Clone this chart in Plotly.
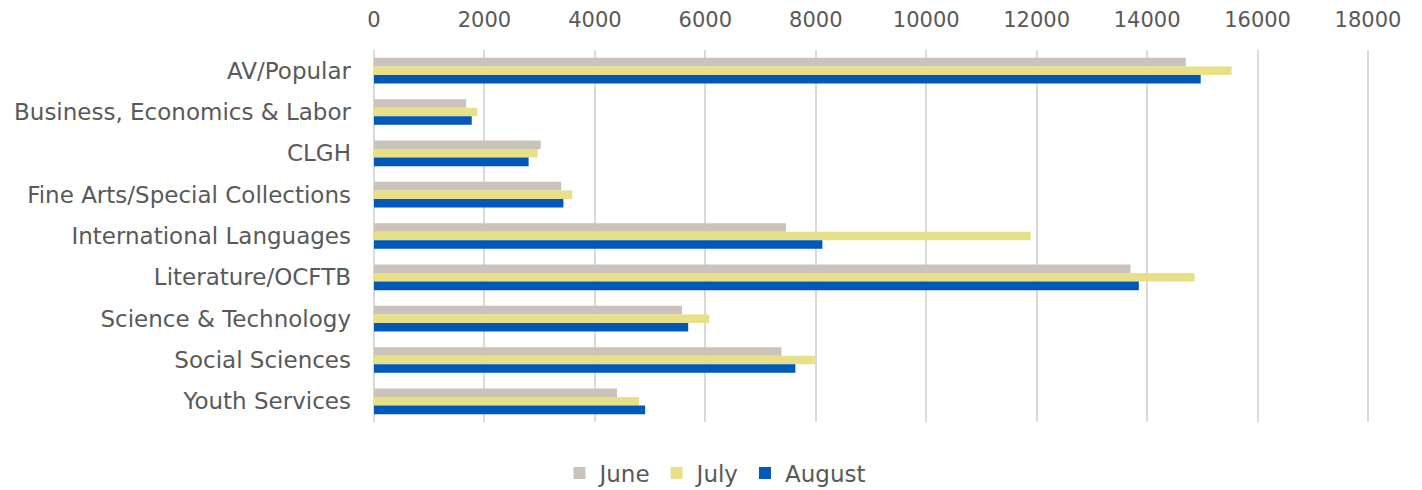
import plotly.graph_objects as go

categories = ["AV/Popular", "Business, Economics & Labor", "CLGH",
              "Fine Arts/Special Collections", "International Languages",
              "Literature/OCFTB", "Science & Technology", "Social Sciences",
              "Youth Services"]
june = [14700, 1670, 3020, 3390, 7460, 13700, 5580, 7380, 4400]
july = [15530, 1870, 2965, 3590, 11890, 14860, 6070, 8005, 4800]
august = [14970, 1770, 2800, 3430, 8120, 13850, 5690, 7630, 4910]
x_ticks = [0, 2000, 4000, 6000, 8000, 10000, 12000, 14000, 16000, 18000]

series = [("June", june, "#CAC2BB"), ("July", july, "#E8E086"), ("August", august, "#0059B9")]

fig = go.Figure()
for name, vals, color in series:
    fig.add_trace(go.Bar(y=categories, x=vals, name=name, orientation="h",
                         marker=dict(color=color, line=dict(width=0))))

font_family = "DejaVu Sans, sans-serif"
fig.update_layout(
    width=1414, height=482,
    barmode="group", bargap=0.38, bargroupgap=0,
    plot_bgcolor="white", paper_bgcolor="white",
    margin=dict(l=366, r=52, t=42, b=68, autoexpand=False),
    font=dict(family=font_family, size=21, color="#595959"),
    showlegend=True,
    legend=dict(orientation="h", xref="container",
                x=0.5, xanchor="center", y=-0.137, yanchor="middle",
                font=dict(size=23, color="#595959"), itemwidth=30,
                traceorder="normal"),
    xaxis=dict(side="top", range=[0, 18036], tickvals=x_ticks, tickformat="d",
               showgrid=True, gridcolor="#D9D9D9", gridwidth=1.5,
               zeroline=True, zerolinecolor="#D9D9D9", zerolinewidth=1.5,
               showline=False, ticks="", ticklabelstandoff=18,
               tickfont=dict(size=21, color="#595959")),
    yaxis=dict(autorange="reversed", showgrid=False, showline=False,
               ticks="", ticklabelstandoff=22,
               tickfont=dict(size=23, color="#595959")),
)

fig.write_html("out.html")
